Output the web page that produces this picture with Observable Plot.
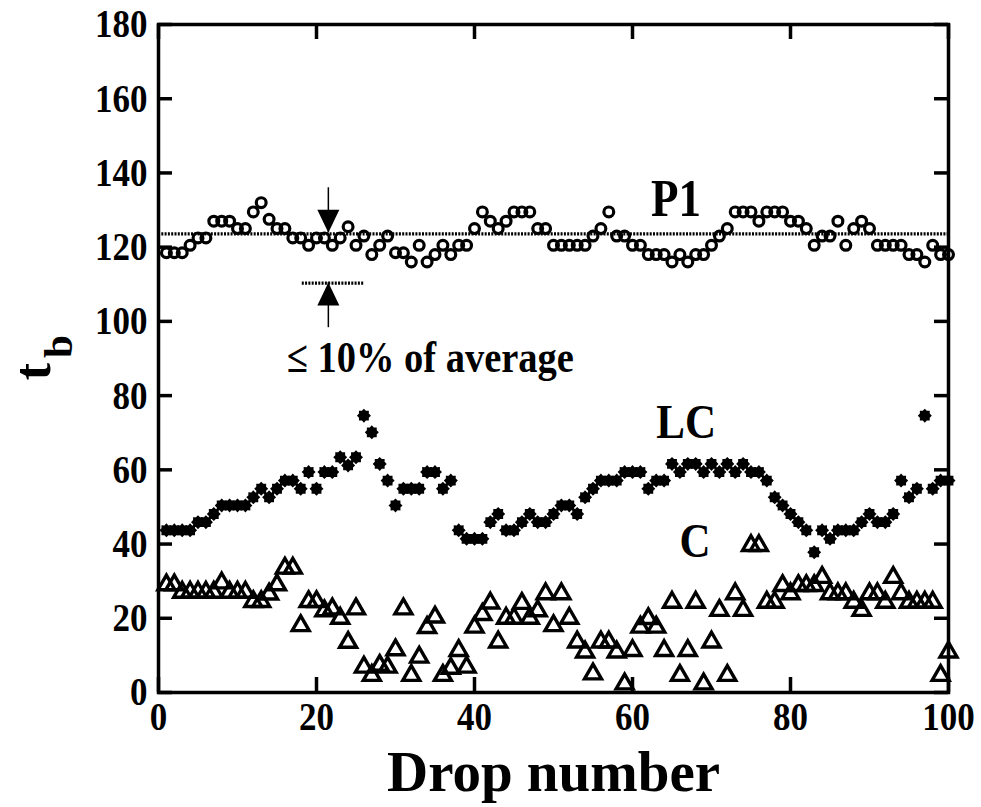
<!DOCTYPE html>
<html><head><meta charset="utf-8">
<script src="https://cdn.jsdelivr.net/npm/d3@7"></script>
<script src="https://cdn.jsdelivr.net/npm/@observablehq/plot@0.6"></script>
<style>body{margin:0;background:#fff}</style>
</head><body><div id="chart"></div>
<script>
// Drop numbers (x categories)
const drops = d3.range(1, 101);

// P1 (open circles)
const p1 = [118.5,118.5,118.5,120.5,122.5,122.5,127,127,127,125,
            125,129.5,132,127.5,125,125,122.5,122.5,120.5,122.5,
            122.5,120.5,122.5,125.5,120.5,123,118,120.5,123,118.5,
            118.5,116,120.5,116,118,120.5,118,120.5,120.5,125,
            129.5,127,125,127,129.5,129.5,129.5,125,125,120.5,
            120.5,120.5,120.5,120.5,123,125,129.5,123,123,120.5,
            120.5,118,118,118,116,118,116,118,118,120.5,
            123,125,129.5,129.5,129.5,127,129.5,129.5,129.5,127,
            127,125,120.5,123,123,127,120.5,125,127,125,
            120.5,120.5,120.5,120.5,118,118,116,120.5,118,118];

// LC (filled stars)
const lc = [43.7,43.7,43.7,43.7,45.9,45.9,48.1,50.4,50.4,50.4,
            50.4,52.6,54.9,52.6,54.9,57.1,57.1,54.9,59.4,54.9,
            59.4,59.4,63.4,61.2,63.4,74.6,70.1,61.6,57.1,50.4,
            54.9,54.9,54.9,59.4,59.4,54.9,57.1,43.7,41.4,41.4,
            41.4,45.9,48.1,43.7,43.7,45.9,48.1,45.9,45.9,48.1,
            50.4,50.4,48.1,52.6,54.9,57.1,57.1,57.1,59.4,59.4,
            59.4,54.9,57.1,57.1,61.6,59.4,61.6,61.6,59.4,61.6,
            59.4,61.6,59.4,61.6,59.4,59.4,57.1,52.6,50.4,48.1,
            45.9,43.7,37.8,43.7,41.4,43.7,43.7,43.7,45.9,48.1,
            45.9,45.9,48.1,57.1,52.6,54.9,74.6,54.9,57.1,57.1];

// C (open triangles)
const cc = [29,29,27,27,27,27,27,29.5,27,27,
            27,24.5,24.5,26.5,29,33.5,33.5,18,24.5,24.5,
            22,22.5,20,13.5,22.5,6.8,4.6,7.3,6.8,11.5,
            22.5,4.6,9.5,17.5,20.3,4.6,6.5,11.3,6.8,17.6,
            21,24.1,13.6,20,20,24,20,22,26.6,18,
            26.6,20,13.6,10.9,5,13.6,13.6,10.9,2.3,11.3,
            17.6,19.9,17.6,11.3,24.3,4.6,11.3,24.3,2.3,13.6,
            22.1,4.6,26.6,22.1,39.6,39.6,24.3,24.3,28.8,26.6,
            28.8,28.8,28.8,31,26.6,26.6,26.6,24.3,22.1,26.6,
            26.6,24.3,31,26.6,24.3,24.3,24.3,24.3,4.6,10.9];

const xTicks = [0, 20, 40, 60, 80, 100];
const yTicks = [0, 20, 40, 60, 80, 100, 120, 140, 160, 180];

// Reference lines
const avgLine = [{y: 123.6, x1: 0, x2: 100}];
const tolLine = [{y: 110.3, x1: 18.2, x2: 26}];
const arrowDown = [{x: 21.5, tail: 136, tip: 123.9}];
const arrowUp = [{x: 21.5, tail: 98.3, tip: 110.5}];

const labels = [
  {x: 65.5, y: 132.8, text: "P1", size: 45},
  {x: 66.8, y: 72.9, text: "LC", size: 43},
  {x: 67.9, y: 40.7, text: "C", size: 43},
  {x: 34.4, y: 90.3, text: "\u2264 10% of average", size: 38.5}
];

const data = drops.map((d, i) => ({drop: d, p1: p1[i], lc: lc[i], c: cc[i]}));

const W = 981, H = 807, mL = 158, mR = 33, mT = 24, mB = 115;
const plotW = W - mL - mR, plotH = H - mT - mB;

const star = {draw(ctx, size) {
  const R = Math.sqrt(size / Math.PI), n = 8;
  for (let k = 0; k < 2 * n; k++) {
    const a = k * Math.PI / n - Math.PI / 2;
    const rr = k % 2 ? R * 0.76 : R;
    const px = rr * Math.cos(a), py = rr * Math.sin(a);
    if (k) ctx.lineTo(px, py); else ctx.moveTo(px, py);
  }
  ctx.closePath();
}};
const headDown = {draw(ctx) { ctx.moveTo(0, 0); ctx.lineTo(-11, -23); ctx.lineTo(11, -23); ctx.closePath(); }};
const headUp = {draw(ctx) { ctx.moveTo(0, 0); ctx.lineTo(-11, 23); ctx.lineTo(11, 23); ctx.closePath(); }};

const chart = Plot.plot({
  width: W, height: H,
  marginLeft: mL, marginRight: mR, marginTop: mT, marginBottom: mB,
  x: {domain: [0, 100]},
  y: {domain: [0, 180]},
  style: {fontFamily: "'Liberation Serif', 'Times New Roman', serif", fontWeight: "bold", color: "black", background: "white", overflow: "visible"},
  marks: [
    Plot.axisX(xTicks, {anchor: "bottom", tickSize: 0, tickPadding: 9, fontSize: 35, label: null}),
    Plot.axisY(yTicks, {anchor: "left", tickSize: 0, tickPadding: 11, fontSize: 35, label: null}),
    Plot.tickY(yTicks, {y: d => d, insetRight: plotW - 14, stroke: "black", strokeWidth: 3.5}),
    Plot.tickY(yTicks, {y: d => d, insetLeft: plotW - 14, stroke: "black", strokeWidth: 3.5}),
    Plot.tickX(xTicks, {x: d => d, insetTop: plotH - 15, stroke: "black", strokeWidth: 3.5}),
    Plot.tickX(xTicks, {x: d => d, insetBottom: plotH - 15, stroke: "black", strokeWidth: 3.5}),
    Plot.ruleY(avgLine, {y: "y", x1: "x1", x2: "x2", stroke: "black", strokeWidth: 3.2, strokeDasharray: "2,1.3"}),
    Plot.ruleY(tolLine, {y: "y", x1: "x1", x2: "x2", stroke: "black", strokeWidth: 3.2, strokeDasharray: "2,1.3"}),
    Plot.ruleX(arrowDown, {x: "x", y1: "tail", y2: "tip", stroke: "black", strokeWidth: 1.5}),
    Plot.ruleX(arrowUp, {x: "x", y1: "tail", y2: "tip", stroke: "black", strokeWidth: 1.5}),
    Plot.dot(arrowDown, {x: "x", y: "tip", symbol: headDown, fill: "black", stroke: null, r: 5}),
    Plot.dot(arrowUp, {x: "x", y: "tip", symbol: headUp, fill: "black", stroke: null, r: 5}),
    Plot.dot(data, {x: "drop", y: "p1", symbol: "circle", r: 4.9, stroke: "black", strokeWidth: 3.2, fill: "none"}),
    Plot.dot(data, {x: "drop", y: "lc", symbol: star, r: 7, fill: "black", stroke: null}),
    Plot.dot(data, {x: "drop", y: "c", symbol: "triangle", r: 6.3, stroke: "black", strokeWidth: 3.4, fill: "none"}),
    Plot.text(labels, {x: "x", y: "y", text: "text", fontSize: d => d.size, textAnchor: "middle", lineAnchor: "middle", fill: "black"}),
    Plot.text(["Drop number"], {frameAnchor: "bottom", dy: 80, fontSize: 57, textAnchor: "middle", lineAnchor: "middle", fill: "black", rotate: 0.001}),
    Plot.text(["t"], {frameAnchor: "left", dx: -125, dy: 13, rotate: -90, fontSize: 52, textAnchor: "middle", lineAnchor: "middle", fill: "black"}),
    Plot.text(["b"], {frameAnchor: "left", dx: -100, dy: -12, rotate: -90, fontSize: 41, textAnchor: "middle", lineAnchor: "middle", fill: "black"}),
    Plot.frame({stroke: "black", strokeWidth: 3.5})
  ]
});

// Reference type is vertically stretched; scale non-rotated text slightly in y
chart.querySelectorAll("text").forEach(t => {
  const tr = t.getAttribute("transform") || "";
  if (!tr.includes("rotate")) t.setAttribute("transform", (tr + " scale(1,1.15)").trim());
});
document.getElementById("chart").append(chart);
</script>
</body></html>
